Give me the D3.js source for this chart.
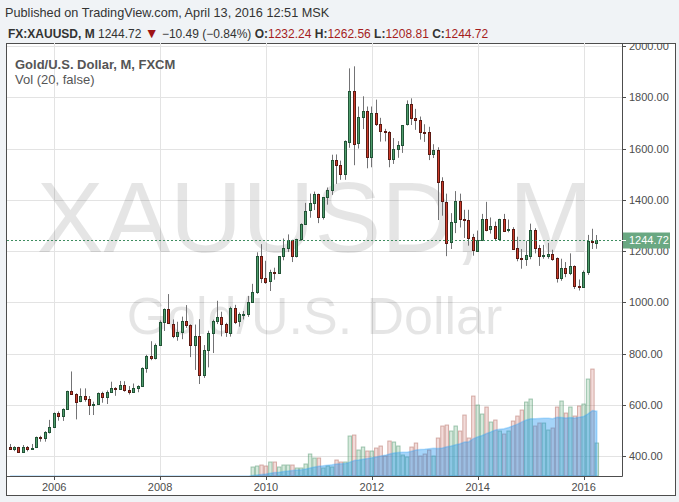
<!DOCTYPE html>
<html>
<head>
<meta charset="utf-8">
<script src="https://cdn.jsdelivr.net/npm/d3@7"></script>
<style>
  body { margin: 0; background: #f0f3f6; }
  svg { display: block; font-family: 'Liberation Sans', Arial, sans-serif; }
</style>
</head>
<body>
<div id="chart"></div>
<script>
// monthly candles, Mar 2005 .. Apr 2016
const firstYear = 2005
const firstMonth = 2 // March

const opens = [
  434, 427, 435, 417, 437, 429, 433, 473, 470, 495,
  513, 568, 556, 582, 654, 643, 613, 633, 623, 599, 604, 646,
  632, 650, 665, 662, 678, 658, 650, 665, 672, 743, 790, 783,
  834, 923, 972, 917, 870, 885, 928, 912, 833, 870, 718, 815,
  882, 928, 942, 916, 883, 979, 926, 954, 955, 1001, 1040, 1182,
  1096, 1081, 1118, 1113, 1180, 1213, 1244, 1181, 1247, 1307, 1357, 1386,
  1421, 1332, 1410, 1439, 1556, 1536, 1500, 1628, 1826, 1620, 1722, 1746,
  1565, 1738, 1697, 1669, 1664, 1560, 1600, 1614, 1692, 1772, 1719, 1712,
  1664, 1663, 1578, 1595, 1472, 1393, 1234, 1313, 1396, 1327, 1323, 1253,
  1202, 1244, 1326, 1284, 1296, 1250, 1327, 1282, 1287, 1210, 1171, 1167,
  1183, 1283, 1213, 1183, 1184, 1190, 1172, 1095, 1134, 1115, 1142, 1065,
  1061, 1118, 1238, 1232.24
]
const highs = [
  447, 438, 436, 443, 439, 447, 476, 479, 497, 541,
  570, 574, 586, 655, 730, 645, 664, 664, 634, 612, 648, 651,
  656, 690, 669, 693, 692, 673, 683, 676, 746, 795, 848, 839,
  929, 976, 1032, 933, 924, 944, 989, 914, 913, 934, 833, 889,
  932, 1006, 963, 920, 983, 990, 960, 966, 1025, 1072, 1195, 1227,
  1162, 1127, 1135, 1180, 1249, 1265, 1244, 1248, 1308, 1388, 1424, 1432,
  1424, 1411, 1448, 1576, 1577, 1553, 1632, 1913, 1921, 1764, 1804, 1764,
  1764, 1791, 1720, 1677, 1668, 1641, 1629, 1692, 1788, 1796, 1755, 1725,
  1695, 1685, 1617, 1605, 1488, 1424, 1348, 1434, 1424, 1361, 1361, 1267,
  1280, 1345, 1392, 1331, 1315, 1326, 1345, 1323, 1293, 1256, 1208, 1239,
  1307, 1289, 1224, 1224, 1232, 1205, 1175, 1170, 1157, 1191, 1144, 1089,
  1124, 1263, 1287, 1262.56
]
const lows = [
  424, 419, 414, 414, 418, 425, 431, 456, 456, 488,
  513, 538, 537, 580, 640, 543, 610, 612, 560, 560, 604, 608,
  603, 648, 635, 660, 651, 640, 648, 649, 670, 725, 774, 777,
  830, 888, 916, 860, 850, 856, 900, 786, 736, 681, 705, 746,
  802, 915, 867, 865, 866, 915, 905, 933, 943, 1000, 1033, 1075,
  1072, 1044, 1088, 1111, 1164, 1196, 1157, 1175, 1240, 1307, 1330, 1360,
  1309, 1323, 1381, 1419, 1462, 1478, 1478, 1603, 1535, 1600, 1676, 1523,
  1527, 1688, 1627, 1628, 1527, 1540, 1564, 1583, 1690, 1692, 1673, 1635,
  1626, 1555, 1563, 1321, 1338, 1180, 1208, 1270, 1292, 1251, 1221, 1182,
  1200, 1239, 1277, 1268, 1240, 1240, 1281, 1273, 1205, 1160, 1131, 1142,
  1168, 1191, 1142, 1170, 1170, 1162, 1077, 1084, 1098, 1106, 1052, 1046,
  1061, 1107, 1208, 1208.81
]
const closes = [
  427, 435, 417, 437, 429, 433, 473, 470, 495, 513,
  568, 556, 582, 654, 643, 613, 633, 623, 599, 604, 646, 632,
  650, 665, 662, 678, 658, 650, 665, 672, 743, 790, 783, 834,
  923, 972, 917, 870, 885, 928, 912, 833, 870, 718, 815, 882,
  928, 942, 916, 883, 979, 926, 954, 955, 1001, 1040, 1182, 1096,
  1081, 1118, 1113, 1180, 1213, 1244, 1181, 1247, 1307, 1357, 1386, 1421,
  1332, 1410, 1439, 1556, 1536, 1500, 1628, 1826, 1620, 1722, 1746, 1565,
  1738, 1697, 1669, 1664, 1560, 1600, 1614, 1692, 1772, 1719, 1712, 1664,
  1663, 1578, 1595, 1472, 1393, 1234, 1313, 1396, 1327, 1323, 1253, 1202,
  1244, 1326, 1284, 1296, 1250, 1327, 1282, 1287, 1210, 1171, 1167, 1183,
  1283, 1213, 1183, 1184, 1190, 1172, 1095, 1134, 1115, 1142, 1065, 1061,
  1118, 1238, 1233, 1244.72
]
// FXCM volume only starts in Oct 2009
const volumes = [
  0, 0, 0, 0, 0, 0, 0, 0, 0, 0,
  0, 0, 0, 0, 0, 0, 0, 0, 0, 0, 0, 0,
  0, 0, 0, 0, 0, 0, 0, 0, 0, 0, 0, 0,
  0, 0, 0, 0, 0, 0, 0, 0, 0, 0, 0, 0,
  0, 0, 0, 0, 0, 0, 0, 0, 0, 9, 10, 11,
  10, 14, 14, 9, 11, 11, 11, 8, 8, 12, 22, 18,
  18, 8, 10, 9, 16, 14, 14, 40, 41, 26, 29, 25,
  25, 28, 30, 20, 35, 34, 30, 21, 19, 29, 33, 20,
  22, 26, 20, 38, 50, 51, 45, 50, 45, 61, 38, 80,
  71, 62, 69, 54, 56, 45, 42, 45, 55, 60, 66, 74,
  77, 50, 53, 53, 46, 48, 69, 75, 63, 69, 60, 70,
  72, 97, 107, 33
]

const yearLabels = [2006, 2008, 2010, 2012, 2014, 2016]
const priceTicks = [400, 600, 800, 1000, 1200, 1400, 1600, 1800, 2000]
const publishedText = 'Published on TradingView.com, April 13, 2016 12:51 MSK'
const changeText = '\u221210.49 (\u22120.84%)'

const width = 679
const height = 502
const plot = { left: 7, right: 622, top: 43, bottom: 476 }
const frame = { left: 6.5, right: 675.5, top: 43.5, bottom: 495.5 }

const upFill = '#4f9d6c'
const upBorder = '#225437'
const downFill = '#cc3b2a'
const downBorder = '#5b1a13'
const wickColor = '#737375'

const svg = d3
  .select('#chart')
  .append('svg')
  .attr('width', width)
  .attr('height', height)

svg.append('defs')
  .append('clipPath')
  .attr('id', 'plot-clip')
  .append('rect')
  .attr('x', plot.left)
  .attr('y', plot.top)
  .attr('width', plot.right - plot.left)
  .attr('height', plot.bottom - plot.top)

svg.select('defs')
  .append('clipPath')
  .attr('id', 'axis-clip')
  .append('rect')
  .attr('x', plot.right)
  .attr('y', plot.top)
  .attr('width', frame.right - plot.right)
  .attr('height', frame.bottom - plot.top)

// white panel with frame
svg.append('rect')
  .attr('x', frame.left)
  .attr('y', frame.top)
  .attr('width', frame.right - frame.left)
  .attr('height', frame.bottom - frame.top)
  .attr('fill', '#fff')
  .attr('stroke', '#4d4d4d')
  .attr('stroke-width', 1)

const monthIndex = (year, m) => (year - firstYear) * 12 + m - firstMonth

const xScale = d3.scaleLinear()
  .domain([-0.7, opens.length + 4.7])
  .range([plot.left, plot.right])

const yScale = d3.scaleLinear()
  .domain([322, 2012])
  .range([plot.bottom, plot.top])

const volScale = d3.scaleLinear()
  .domain([0, d3.max(volumes)])
  .range([plot.bottom, plot.bottom - (plot.bottom - plot.top) * 0.247])

const candles = opens.map((o, i) => ({
  i: i,
  open: o,
  high: highs[i],
  low: lows[i],
  close: closes[i],
  volume: volumes[i],
  ma: d3.mean(volumes.slice(Math.max(0, i - 19), i + 1))
}))

const g = svg.append('g').attr('clip-path', 'url(#plot-clip)')

// grid
g.selectAll('.hgrid')
  .data(priceTicks)
  .enter()
  .append('line')
  .attr('class', 'hgrid')
  .attr('x1', plot.left)
  .attr('x2', plot.right)
  .attr('y1', d => Math.round(yScale(d)) + 0.5)
  .attr('y2', d => Math.round(yScale(d)) + 0.5)
  .attr('stroke', '#e3e3e3')

g.selectAll('.vgrid')
  .data(yearLabels)
  .enter()
  .append('line')
  .attr('class', 'vgrid')
  .attr('x1', d => Math.round(xScale(monthIndex(d, 0))) + 0.5)
  .attr('x2', d => Math.round(xScale(monthIndex(d, 0))) + 0.5)
  .attr('y1', plot.top)
  .attr('y2', plot.bottom)
  .attr('stroke', '#e3e3e3')

// watermark
const centerX = (plot.left + plot.right) / 2
g.append('text')
  .attr('x', centerX)
  .attr('y', 252)
  .attr('text-anchor', 'middle')
  .attr('font-size', 100)
  .attr('fill', 'rgba(0,0,0,0.1)')
  .text('XAUUSD, M')

g.append('text')
  .attr('x', centerX)
  .attr('y', 334)
  .attr('text-anchor', 'middle')
  .attr('font-size', 52)
  .attr('fill', 'rgba(0,0,0,0.1)')
  .text('Gold/U.S. Dollar')

// volume
const step = xScale(1) - xScale(0)
g.selectAll('.vol')
  .data(candles.filter(d => d.volume > 0))
  .enter()
  .append('rect')
  .attr('class', 'vol')
  .attr('x', d => xScale(d.i) - step / 2 + 0.5)
  .attr('y', d => volScale(d.volume))
  .attr('width', step - 1)
  .attr('height', d => volScale(0) - volScale(d.volume))
  .attr('fill', d => d.close >= d.open ? 'rgba(107,175,131,0.28)' : 'rgba(200,110,100,0.24)')
  .attr('stroke', d => d.close >= d.open ? 'rgba(80,150,110,0.5)' : 'rgba(170,90,80,0.45)')

const maArea = d3.area()
  .x(d => xScale(d.i))
  .y0(volScale(0))
  .y1(d => volScale(d.ma))

g.append('path')
  .datum(candles)
  .attr('d', maArea)
  .attr('fill', 'rgba(30,148,240,0.4)')
  .attr('stroke', 'rgba(60,165,245,0.35)')
  .attr('stroke-width', 1.5)

// candles
const px = d => Math.round(xScale(d.i) - 1.5)

g.selectAll('.wick')
  .data(candles)
  .enter()
  .append('line')
  .attr('class', 'wick')
  .attr('x1', d => px(d) + 1.5)
  .attr('x2', d => px(d) + 1.5)
  .attr('y1', d => yScale(d.high))
  .attr('y2', d => yScale(d.low))
  .attr('stroke', wickColor)

g.selectAll('.body')
  .data(candles)
  .enter()
  .append('rect')
  .attr('class', 'body')
  .attr('x', d => px(d) + 0.5)
  .attr('y', d => Math.round(yScale(Math.max(d.open, d.close))) + 0.5)
  .attr('width', 2)
  .attr('height', d => Math.max(1, Math.round(Math.abs(yScale(d.open) - yScale(d.close)))))
  .attr('fill', d => d.close >= d.open ? upFill : downFill)
  .attr('stroke', d => d.close >= d.open ? upBorder : downBorder)

// last price line
const last = candles[candles.length - 1]
const lastY = Math.round(yScale(last.close)) + 0.5
g.append('line')
  .attr('x1', plot.left)
  .attr('x2', plot.right)
  .attr('y1', lastY)
  .attr('y2', lastY)
  .attr('stroke', '#3f8d60')
  .attr('stroke-dasharray', '2,2')

// axes lines
svg.append('line')
  .attr('x1', plot.right + 0.5)
  .attr('x2', plot.right + 0.5)
  .attr('y1', frame.top)
  .attr('y2', plot.bottom + 0.5)
  .attr('stroke', '#4d4d4d')

svg.append('line')
  .attr('x1', frame.left)
  .attr('x2', plot.right + 0.5)
  .attr('y1', plot.bottom + 0.5)
  .attr('y2', plot.bottom + 0.5)
  .attr('stroke', '#4d4d4d')

// price axis
const yAxisG = svg.append('g').attr('clip-path', 'url(#axis-clip)')
yAxisG.selectAll('.ytick')
  .data(priceTicks)
  .enter()
  .append('line')
  .attr('x1', plot.right)
  .attr('x2', plot.right + 4)
  .attr('y1', d => Math.round(yScale(d)) + 0.5)
  .attr('y2', d => Math.round(yScale(d)) + 0.5)
  .attr('stroke', '#4d4d4d')

yAxisG.selectAll('.ylabel')
  .data(priceTicks)
  .enter()
  .append('text')
  .attr('x', plot.right + 7)
  .attr('y', d => yScale(d) + 4)
  .attr('font-size', 11)
  .attr('fill', '#4d4d4d')
  .text(d => d3.format('.2f')(d))

yAxisG.append('rect')
  .attr('x', plot.right + 1)
  .attr('y', lastY - 8)
  .attr('width', 47)
  .attr('height', 16)
  .attr('fill', '#6aa882')

yAxisG.append('line')
  .attr('x1', plot.right)
  .attr('x2', plot.right + 4)
  .attr('y1', lastY)
  .attr('y2', lastY)
  .attr('stroke', '#fff')

yAxisG.append('text')
  .attr('x', plot.right + 7)
  .attr('y', lastY + 3.5)
  .attr('font-size', 11)
  .attr('fill', '#fff')
  .text(d3.format('.2f')(last.close))

// time axis
svg.selectAll('.xtick')
  .data(yearLabels)
  .enter()
  .append('line')
  .attr('x1', d => Math.round(xScale(monthIndex(d, 0))) + 0.5)
  .attr('x2', d => Math.round(xScale(monthIndex(d, 0))) + 0.5)
  .attr('y1', plot.bottom)
  .attr('y2', plot.bottom + 4)
  .attr('stroke', '#4d4d4d')

svg.selectAll('.xlabel')
  .data(yearLabels)
  .enter()
  .append('text')
  .attr('x', d => xScale(monthIndex(d, 0)))
  .attr('y', plot.bottom + 15)
  .attr('text-anchor', 'middle')
  .attr('font-size', 11)
  .attr('fill', '#4d4d4d')
  .text(d => d)

// legend inside the pane
svg.append('text')
  .attr('x', 15)
  .attr('y', 68.5)
  .attr('font-size', 13)
  .attr('font-weight', 'bold')
  .attr('fill', '#555')
  .text('Gold/U.S. Dollar, M, FXCM')

svg.append('text')
  .attr('x', 15)
  .attr('y', 83.5)
  .attr('font-size', 13)
  .attr('fill', '#555')
  .text('Vol (20, false)')

// header
svg.append('text')
  .attr('x', 5)
  .attr('y', 16.5)
  .attr('font-size', 12.7)
  .attr('fill', '#333')
  .text(publishedText)

const header = svg.append('text')
  .attr('x', 8)
  .attr('y', 37.5)
  .attr('font-size', 12)
  .attr('fill', '#333')

header.append('tspan').attr('font-weight', 'bold').text('FX:XAUUSD, M ')
header.append('tspan').text(d3.format('.2f')(last.close) + ' ')
header.append('tspan').attr('fill', '#9e1414').attr('font-size', 14).text('\u25BC')
header.append('tspan').text(' ' + changeText + ' ')

const ohlc = [['O:', last.open], ['H:', last.high], ['L:', last.low], ['C:', last.close]]
ohlc.forEach(([k, v]) => {
  header.append('tspan').attr('font-weight', 'bold').text(k)
  header.append('tspan').attr('fill', '#a51d1d').text(d3.format('.2f')(v) + ' ')
})
</script>
</body>
</html>
